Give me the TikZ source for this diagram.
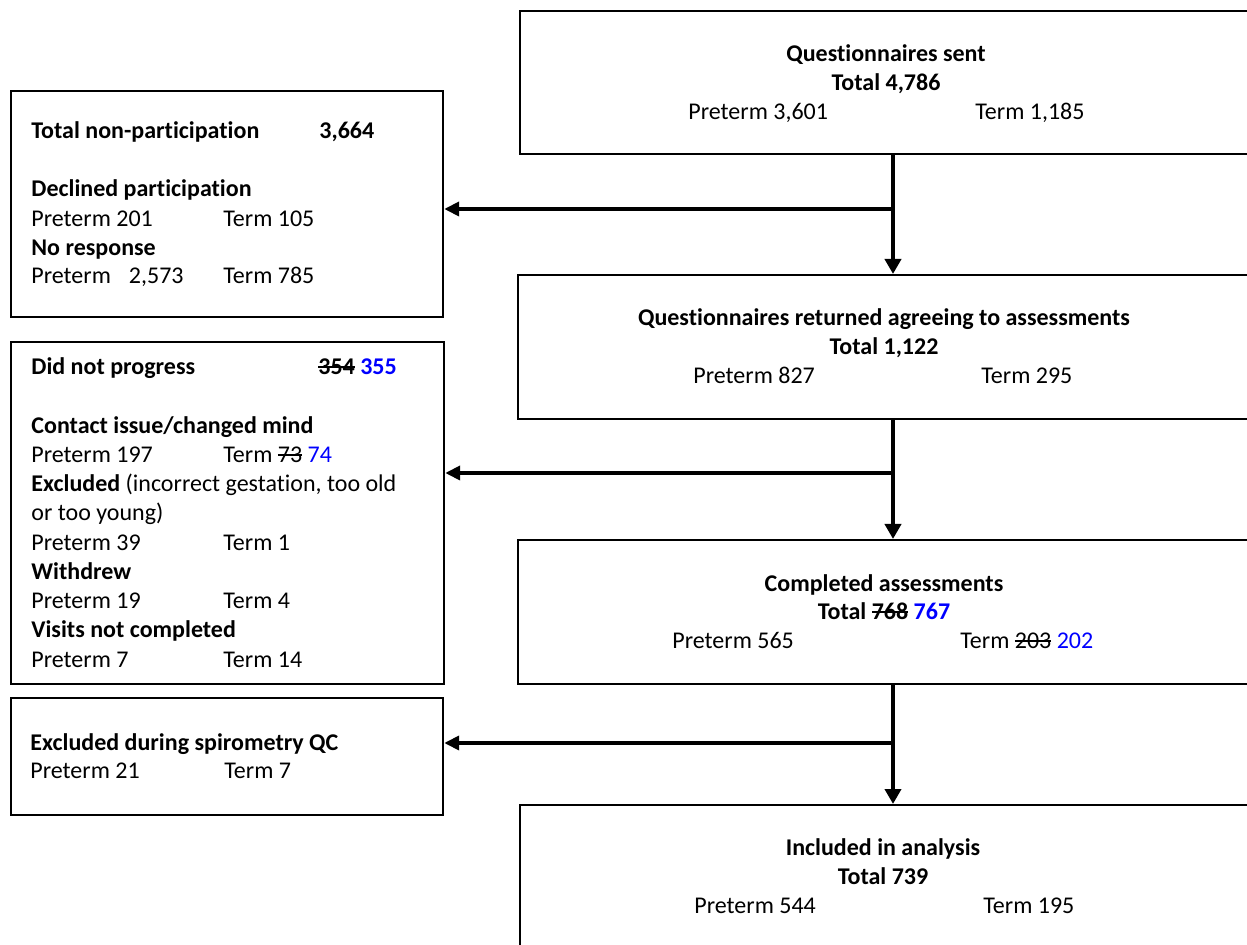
\documentclass[tikz,border=0pt]{standalone}
\usepackage{fontspec}
\setmainfont[Ligatures=NoCommon]{Carlito}
\usetikzlibrary{arrows.meta}
\newsavebox\strkbox
\newcommand\strk[1]{\sbox\strkbox{#1}\rlap{\rule[0.3em]{\wd\strkbox}{0.07em}}\usebox\strkbox}
\tikzset{
  box/.style={draw=black, line width=1.1pt, rectangle, inner sep=0pt, anchor=north west},
  txt/.style={inner sep=0pt, anchor=base west, font=\fontsize{12pt}{14.5pt}\selectfont},
  ctxt/.style={inner sep=0pt, anchor=base, font=\fontsize{12pt}{14.5pt}\selectfont\bfseries},
  flow/.style={line width=2pt, -{Triangle[length=7.5pt,width=8pt]}},
  branch/.style={line width=2pt, -{Triangle[length=7.5pt,width=7pt]}}
}
\begin{document}
\begin{tikzpicture}[x=0.5pt,y=-0.5pt]
\useasboundingbox (0,0) rectangle (1247,945);
\clip (0,0) rectangle (1247,945);
% right-hand boxes
\node[box, minimum width=370pt, minimum height=71.5pt] (b1) at (519,10) {};
\node[box, minimum width=371pt, minimum height=72pt] (b2) at (517,274) {};
\node[box, minimum width=371pt, minimum height=72pt] (b3) at (517,539) {};
\node[box, minimum width=370pt, minimum height=100pt] (b4) at (519,804) {};
% left-hand boxes
\node[box, minimum width=216pt, minimum height=113pt] (bA) at (10,90) {};
\node[box, minimum width=216.5pt, minimum height=171pt] (bB) at (10,341) {};
\node[box, minimum width=216pt, minimum height=58.5pt] (bC) at (10,697) {};
% junctions
\coordinate (j1) at (893,209);
\coordinate (j2) at (893,473);
\coordinate (j3) at (893,743);
% connectors
\draw[flow] (b1.south -| j1) -- (b2.north -| j1);
\draw[flow] (b2.south -| j2) -- (b3.north -| j2);
\draw[flow] (b3.south -| j3) -- (b4.north -| j3);
\draw[branch] (j1) -- (bA.east |- j1);
\draw[branch] (j2) -- (bB.east |- j2);
\draw[branch] (j3) -- (bC.east |- j3);
% box 1
\node[ctxt] (t11) at (886,62) {Questionnaires sent};
\node[ctxt] (t12) at (886,91) {Total 4,786};
\node[txt] (t13) at (688,120) {Preterm 3,601};
\node[txt] (t14) at (975,120) {Term 1,185};
% box 2
\node[ctxt] (t21) at (884,326) {Questionnaires returned agreeing to assessments};
\node[ctxt] (t22) at (884,355) {Total 1,122};
\node[txt] (t23) at (693,384) {Preterm 827};
\node[txt] (t24) at (981,384) {Term 295};
% box 3
\node[ctxt] (t31) at (884,592) {Completed assessments};
\node[ctxt] (t32) at (884,620) {Total \strk{768} \textcolor{blue}{767}};
\node[txt] (t33) at (672,649) {Preterm 565};
\node[txt] (t34) at (960,649) {Term \strk{203} \textcolor{blue}{202}};
% box 4
\node[ctxt] (t41) at (883,855) {Included in analysis};
\node[ctxt] (t42) at (883,884) {Total 739};
\node[txt] (t43) at (694,913) {Preterm 544};
\node[txt] (t44) at (983,913) {Term 195};
% box A
\node[txt] (tA1) at (31,139) {\bfseries Total non-participation};
\node[txt] (tA2) at (319,139) {\bfseries 3,664};
\node[txt] (tA3) at (31,197) {\bfseries Declined participation};
\node[txt] (tA4) at (31,227) {Preterm 201};
\node[txt] (tA5) at (223,227) {Term 105};
\node[txt] (tA6) at (31,256) {\bfseries No response};
\node[txt] (tA7) at (31,284) {Preterm\hspace{9pt}2,573};
\node[txt] (tA8) at (223,284) {Term 785};
% box B
\node[txt] (tB1) at (31,375) {\bfseries Did not progress};
\node[txt] (tB2) at (318,375) {\bfseries \strk{354} \textcolor{blue}{355}};
\node[txt] (tB3) at (31,434) {\bfseries Contact issue/changed mind};
\node[txt] (tB4) at (31,463) {Preterm 197};
\node[txt] (tB5) at (223,463) {Term \strk{73} \textcolor{blue}{74}};
\node[txt] (tB6) at (31,492) {\textbf{Excluded} (incorrect gestation, too old};
\node[txt] (tB7) at (31,521) {or too young)};
\node[txt] (tB8) at (31,551) {Preterm 39};
\node[txt] (tB9) at (223,551) {Term 1};
\node[txt] (tB10) at (31,580) {\bfseries Withdrew};
\node[txt] (tB11) at (31,609) {Preterm 19};
\node[txt] (tB12) at (223,609) {Term 4};
\node[txt] (tB13) at (31,638) {\bfseries Visits not completed};
\node[txt] (tB14) at (31,668) {Preterm 7};
\node[txt] (tB15) at (223,668) {Term 14};
% box C
\node[txt] (tC1) at (30,750) {\bfseries Excluded during spirometry QC};
\node[txt] (tC2) at (30,778) {Preterm 21};
\node[txt] (tC3) at (224,778) {Term 7};
\end{tikzpicture}
\end{document}
